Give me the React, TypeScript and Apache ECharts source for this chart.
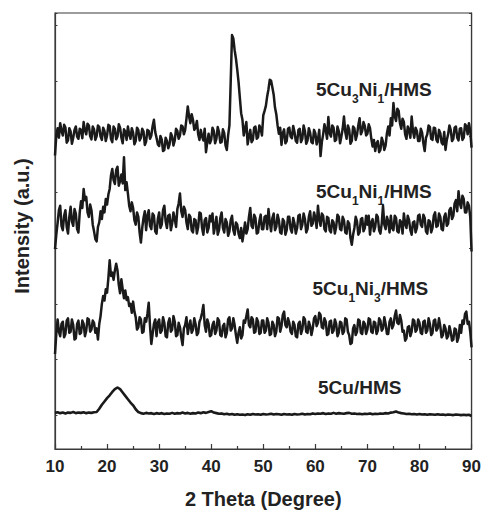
import React, { useEffect, useRef } from "react";
import * as echarts from "echarts";

// 2θ sampling: all patterns start at 10°; noisy patterns every 0.25°, 5Cu/HMS every 0.5°
const twoThetaStart = 10;
const noisyStep = 0.25;
const cuStep = 0.5;

// Stacked, offset intensities (a.u.); one row = 5°
const cu3ni1 = [
  46.6, 50.2, 51.5, 49.8, 52.4, 51.0, 50.2, 52.1, 51.6, 48.9, 49.3, 51.5, 50.9, 48.7, 49.8, 51.2, 51.8, 50.0, 49.6, 51.4,
  51.2, 49.7, 52.6, 51.1, 50.4, 52.3, 52.0, 50.1, 49.5, 51.8, 51.3, 49.4, 50.1, 52.0, 51.7, 50.0, 49.4, 51.6, 51.0, 49.2,
  50.2, 52.1, 51.9, 49.6, 49.0, 51.8, 51.4, 49.5, 50.0, 52.2, 51.6, 49.8, 48.8, 51.3, 50.9, 49.4, 51.8, 50.4, 49.6, 51.5,
  50.7, 48.6, 49.2, 51.6, 51.2, 49.3, 49.8, 51.4, 50.9, 48.5, 49.1, 51.2, 51.0, 49.6, 50.2, 51.9, 53.0, 50.8, 49.8, 48.6,
  48.3, 50.1, 49.5, 47.4, 47.6, 49.8, 49.2, 47.9, 48.6, 50.6, 50.0, 48.4, 49.3, 51.4, 51.0, 49.6, 50.2, 52.0, 51.8, 50.4,
  51.2, 53.2, 55.4, 53.6, 52.4, 54.0, 53.0, 51.2, 51.6, 52.8, 50.4, 49.4, 51.2, 50.0, 49.3, 51.4, 47.2, 49.0, 50.5, 48.8,
  49.4, 51.6, 51.0, 48.8, 49.6, 51.7, 50.8, 48.9, 49.0, 51.3, 50.6, 48.4, 47.6, 50.2, 52.0, 60.0, 68.2, 67.6, 65.5, 64.0,
  62.0, 59.8, 57.0, 54.2, 53.0, 50.2, 51.4, 52.6, 48.6, 50.0, 51.2, 49.0, 49.4, 51.6, 51.8, 49.6, 49.9, 52.0, 51.4, 50.2,
  53.8, 54.6, 55.5, 57.2, 58.5, 60.2, 60.0, 58.8, 57.5, 55.2, 54.0, 52.0, 50.5, 51.6, 48.5, 50.6, 51.3, 48.8, 49.2, 51.4,
  51.6, 50.0, 49.7, 51.9, 50.8, 49.2, 48.9, 51.2, 51.4, 49.0, 49.6, 52.0, 51.0, 48.7, 49.3, 51.5, 50.7, 49.0, 48.8, 51.2,
  50.6, 48.6, 49.5, 51.2, 46.5, 49.0, 50.4, 52.2, 51.2, 49.6, 53.5, 50.6, 50.0, 52.0, 51.6, 49.2, 49.4, 51.8, 51.0, 48.8,
  50.0, 51.4, 53.6, 50.8, 49.6, 52.0, 51.3, 48.7, 49.2, 51.8, 51.5, 49.4, 50.3, 52.0, 53.3, 50.4, 51.0, 52.6, 51.9, 50.2,
  50.5, 52.2, 51.5, 49.6, 48.2, 49.4, 47.4, 48.8, 49.2, 47.2, 47.6, 49.8, 49.0, 47.6, 48.4, 50.6, 51.8, 50.2, 53.3, 52.0,
  56.0, 53.6, 52.8, 55.0, 54.6, 52.4, 51.4, 53.2, 52.6, 50.4, 49.6, 51.8, 51.2, 49.8, 53.6, 51.0, 49.8, 51.6, 51.0, 49.2,
  49.2, 51.4, 50.7, 48.8, 47.4, 49.8, 50.4, 52.0, 51.7, 49.6, 49.4, 51.6, 51.5, 49.4, 49.0, 51.2, 50.6, 48.9, 48.6, 50.8,
  47.6, 49.4, 50.4, 52.0, 51.2, 49.2, 49.6, 51.6, 51.8, 49.8, 49.3, 51.4, 51.5, 49.4, 49.8, 52.2, 51.9, 50.4, 52.4, 51.0,
  48.0,
];

const cu1ni1 = [
  29.8, 32.4, 34.5, 36.8, 37.6, 34.0, 33.2, 35.8, 36.8, 33.8, 32.6, 35.6, 37.4, 34.8, 34.0, 37.0, 36.2, 33.4, 32.8, 36.4,
  38.4, 37.2, 40.6, 38.6, 39.2, 36.4, 35.6, 37.8, 36.8, 34.2, 33.0, 31.6, 31.2, 33.8, 34.6, 36.6, 35.2, 37.4, 36.4, 38.8,
  37.8, 39.6, 40.6, 43.0, 44.2, 42.2, 41.5, 44.0, 44.6, 41.2, 42.0, 43.2, 41.6, 46.3, 40.4, 41.8, 39.8, 37.6, 36.6, 38.2,
  37.2, 35.0, 34.2, 36.4, 35.6, 32.8, 31.0, 33.6, 35.4, 36.6, 33.2, 35.8, 36.8, 34.0, 33.4, 36.2, 35.8, 33.0, 32.6, 35.2,
  36.4, 33.6, 34.2, 36.8, 37.6, 34.8, 33.6, 35.8, 36.0, 33.2, 34.4, 36.4, 35.2, 33.8, 37.0, 38.0, 39.8, 36.6, 35.6, 37.4,
  36.8, 34.6, 33.4, 36.0, 35.6, 33.2, 32.8, 35.2, 35.0, 32.6, 33.8, 36.4, 36.2, 33.6, 32.4, 35.0, 35.4, 32.8, 33.6, 35.8,
  34.8, 36.2, 32.6, 34.0, 35.6, 32.4, 33.2, 35.4, 36.4, 33.6, 32.8, 35.2, 34.6, 32.2, 33.0, 35.0, 35.8, 33.2, 32.4, 34.6,
  34.2, 32.6, 31.8, 33.6, 31.2, 32.8, 34.6, 32.6, 33.4, 35.6, 37.2, 34.0, 33.6, 36.0, 35.4, 32.6, 32.8, 34.8, 36.0, 33.4,
  33.4, 35.6, 35.8, 33.4, 37.0, 34.6, 33.0, 35.4, 36.2, 33.2, 33.8, 36.0, 35.0, 32.8, 32.6, 35.2, 34.8, 32.4, 33.2, 35.6,
  35.6, 33.4, 32.8, 35.4, 34.4, 32.6, 33.6, 35.8, 36.0, 33.4, 34.2, 36.2, 35.2, 32.8, 33.4, 35.6, 36.6, 34.0, 34.4, 36.4,
  35.4, 33.6, 37.6, 35.2, 34.0, 36.2, 35.8, 33.4, 33.0, 35.6, 35.4, 33.2, 32.8, 35.0, 34.6, 32.6, 33.8, 36.0, 35.6, 33.4,
  33.2, 35.6, 35.0, 32.8, 32.6, 34.8, 34.4, 31.8, 30.6, 32.4, 33.6, 35.6, 34.8, 32.4, 32.8, 35.2, 35.4, 33.0, 33.6, 35.8,
  34.2, 35.8, 32.4, 34.6, 35.2, 33.0, 33.8, 36.0, 35.6, 33.2, 32.6, 34.4, 37.6, 34.2, 33.4, 35.6, 34.8, 32.8, 35.8, 33.6,
  33.2, 35.8, 35.4, 33.0, 32.8, 35.0, 34.6, 32.6, 36.2, 34.4, 33.6, 35.8, 35.0, 33.2, 32.4, 34.6, 34.8, 32.8, 33.6, 35.8,
  36.0, 34.2, 33.8, 36.0, 35.4, 33.0, 32.6, 35.0, 34.8, 32.8, 33.6, 35.8, 36.4, 33.8, 34.0, 36.2, 35.6, 33.4, 33.2, 35.6,
  36.2, 34.0, 34.4, 36.8, 37.2, 35.2, 35.8, 38.0, 38.6, 36.6, 40.2, 38.0, 37.2, 39.4, 38.8, 36.4, 36.4, 38.2, 37.6, 35.6,
  29.4,
];

const cu1ni3 = [
  11.0, 14.6, 17.2, 15.0, 14.2, 16.4, 16.8, 14.0, 14.6, 17.0, 17.4, 14.8, 15.0, 17.2, 16.2, 13.6, 13.8, 16.4, 17.0, 14.6,
  14.8, 17.0, 16.4, 14.2, 15.2, 17.4, 17.2, 15.0, 15.4, 17.0, 16.6, 14.8, 15.6, 13.6, 16.4, 17.8, 20.0, 21.4, 20.6, 22.6,
  22.0, 24.6, 27.8, 25.0, 25.6, 24.3, 26.0, 27.2, 26.0, 23.4, 21.9, 24.4, 22.6, 21.0, 22.4, 20.7, 21.2, 19.6, 20.0, 18.4,
  20.4, 18.6, 17.6, 15.4, 15.8, 17.6, 17.2, 14.8, 15.0, 17.4, 16.8, 18.2, 20.2, 16.0, 12.8, 14.6, 16.4, 17.2, 14.2, 16.6,
  17.2, 14.8, 15.2, 17.6, 16.6, 14.2, 14.0, 16.6, 17.4, 15.0, 15.4, 17.8, 16.8, 14.2, 14.4, 16.6, 15.8, 14.0, 12.6, 15.6,
  16.2, 17.6, 14.6, 16.0, 17.0, 14.8, 15.4, 17.4, 16.4, 14.4, 14.8, 16.8, 17.4, 18.4, 19.8, 16.2, 15.0, 17.2, 16.4, 14.2,
  14.4, 16.2, 16.8, 14.6, 15.2, 17.4, 17.0, 14.4, 14.2, 16.0, 16.4, 14.0, 14.8, 17.2, 17.6, 15.2, 15.6, 17.4, 16.2, 14.4,
  13.0, 14.8, 15.8, 13.8, 14.4, 17.0, 16.6, 17.8, 19.0, 16.2, 15.8, 17.6, 17.2, 14.8, 15.0, 17.4, 16.8, 14.6, 14.8, 17.0,
  17.0, 14.8, 15.2, 17.4, 16.6, 14.4, 14.6, 16.8, 16.2, 14.2, 15.0, 17.6, 17.4, 15.0, 16.0, 18.0, 18.6, 16.2, 15.8, 17.4,
  16.6, 15.0, 14.6, 16.8, 16.2, 14.2, 14.0, 16.4, 16.8, 14.6, 15.4, 17.6, 17.2, 15.0, 14.8, 16.8, 16.0, 14.4, 15.6, 17.4,
  17.8, 16.0, 16.6, 18.4, 18.0, 15.8, 15.6, 17.4, 16.8, 14.4, 14.6, 16.8, 17.0, 14.8, 15.2, 17.2, 16.4, 14.2, 14.8, 16.8,
  16.6, 14.6, 15.0, 17.4, 17.2, 15.0, 14.4, 12.8, 13.0, 15.6, 16.2, 14.4, 15.0, 17.2, 17.0, 14.8, 14.6, 16.8, 16.4, 14.6,
  15.4, 17.4, 17.2, 15.0, 14.8, 16.8, 16.6, 14.6, 15.2, 17.4, 17.0, 15.2, 15.6, 17.6, 16.4, 14.6, 14.6, 16.8, 17.4, 15.6,
  16.2, 17.8, 18.8, 16.6, 16.4, 18.0, 17.0, 15.0, 15.2, 13.4, 13.8, 15.8, 16.0, 14.2, 15.0, 17.2, 17.0, 15.0, 15.4, 17.2,
  16.6, 14.8, 14.6, 16.8, 17.0, 14.8, 15.2, 17.4, 16.4, 14.4, 14.8, 17.0, 17.2, 15.2, 15.6, 17.4, 16.0, 14.0, 14.4, 16.2,
  15.6, 13.8, 14.2, 16.0, 15.0, 13.4, 13.6, 15.6, 15.4, 13.2, 14.0, 16.2, 14.8, 17.0, 16.4, 18.2, 18.6, 16.4, 16.8, 15.0,
  12.2,
];

const cu = [
  0.45, 0.55, 0.4, 0.5, 0.35, 0.5, 0.45, 0.6, 0.4, 0.5,
  0.45, 0.55, 0.4, 0.5, 0.45, 0.55, 0.6, 1.2, 1.9, 2.5,
  3.1, 3.6, 4.2, 4.7, 5.0, 4.7, 4.1, 3.5, 2.9, 2.3,
  1.8, 1.1, 0.6, 0.4, 0.3, 0.45, 0.35, 0.4, 0.25, 0.4,
  0.3, 0.4, 0.25, 0.35, 0.3, 0.45, 0.3, 0.4, 0.35, 0.5,
  0.35, 0.45, 0.3, 0.4, 0.35, 0.5, 0.4, 0.55, 0.45, 0.6,
  0.75, 0.5, 0.4, 0.3, 0.35, 0.2, 0.3, 0.15, 0.25, 0.1,
  0.2, 0.1, 0.15, 0.05, 0.2, 0.1, 0.25, 0.15, 0.2, 0.1,
  0.25, 0.15, 0.2, 0.3, 0.15, 0.25, 0.2, 0.1, 0.25, 0.15,
  0.2, 0.1, 0.25, 0.15, 0.2, 0.3, 0.15, 0.25, 0.2, 0.35,
  0.25, 0.35, 0.3, 0.4, 0.25, 0.35, 0.3, 0.45, 0.3, 0.4,
  0.35, 0.3, 0.4, 0.45, 0.3, 0.35, 0.25, 0.3, 0.2, 0.3,
  0.25, 0.35, 0.2, 0.3, 0.25, 0.35, 0.3, 0.4, 0.35, 0.5,
  0.55, 0.7, 0.5, 0.4, 0.35, 0.25, 0.3, 0.2, 0.25, 0.15,
  0.25, 0.15, 0.2, 0.1, 0.2, 0.15, 0.1, 0.2, 0.1, 0.15,
  0.05, 0.15, 0.1, 0.05, 0.15, 0.1, 0.05, 0.1, 0.05, 0.1,
  -0.1,
];

const xTicks = [10, 20, 30, 40, 50, 60, 70, 80, 90];

const FONT = '"Liberation Sans", Arial, Helvetica, sans-serif';
const INK = "#1a1a1a";
const AXIS = "#3a3a3a";

function toPairs(vals: number[], step: number) {
  return vals.map((v, i) => [twoThetaStart + i * step, v]);
}

function label(parts: [string, boolean][], x: number, y: number) {
  const text = parts.map(([t, sub]) => `{${sub ? "s" : "m"}|${t}}`).join("");
  return {
    type: "text",
    x,
    y,
    style: {
      text,
      fill: "#222",
      textVerticalAlign: "top",
      rich: {
        m: { fontFamily: FONT, fontWeight: "bold", fontSize: 19, lineHeight: 22, verticalAlign: "top", fill: "#222" },
        s: { fontFamily: FONT, fontWeight: "bold", fontSize: 12, lineHeight: 14, padding: [13, 0, 0, 0], verticalAlign: "top", fill: "#222" },
      },
    },
  };
}

function yAxisDef(position: "left" | "right") {
  return {
    type: "value",
    min: -6.03,
    max: 72.16,
    splitNumber: 8,
    position,
    axisLine: { show: true, onZero: false, lineStyle: { color: AXIS, width: 1.2 } },
    axisTick: { show: true, inside: true, length: 2.5, lineStyle: { color: AXIS, width: 1 } },
    axisLabel: { show: false },
    splitLine: { show: false },
  };
}

export default function App() {
  const ref = useRef<HTMLDivElement>(null);
  useEffect(() => {
    if (!ref.current) return;
    const chart = echarts.init(ref.current, undefined, { renderer: "svg" });
    const lineSeries = (name: string, vals: number[], step: number, w: number) => ({
      name,
      type: "line",
      data: toPairs(vals, step),
      showSymbol: false,
      symbol: "none",
      lineStyle: { color: INK, width: w, join: "round" },
      xAxisIndex: 0,
      yAxisIndex: 0,
      z: 3,
    });
    chart.setOption({
      animation: false,
      backgroundColor: "#ffffff",
      grid: {
        left: 55,
        top: 13,
        width: 418,
        height: 441,
        show: true,
        borderColor: AXIS,
        borderWidth: 1.2,
        backgroundColor: "transparent",
      },
      xAxis: {
        type: "value",
        min: xTicks[0],
        max: xTicks[xTicks.length - 1],
        interval: 10,
        axisLine: { show: true, onZero: false, lineStyle: { color: AXIS, width: 1.2 } },
        axisTick: { show: true, inside: true, length: 5, lineStyle: { color: AXIS, width: 1.2 } },
        minorTick: { show: true, splitNumber: 2, length: 3, lineStyle: { color: AXIS, width: 1.2 } },
        splitLine: { show: false },
        axisLabel: { margin: 9, fontFamily: FONT, fontWeight: "bold", fontSize: 17, color: "#222" },
        name: "2 Theta (Degree)",
        nameLocation: "middle",
        nameGap: 40,
        nameTextStyle: { fontFamily: FONT, fontWeight: "bold", fontSize: 20, color: "#222" },
      },
      yAxis: [yAxisDef("left"), yAxisDef("right")],
      series: [
        lineSeries("5Cu3Ni1/HMS", cu3ni1, noisyStep, 2.5),
        lineSeries("5Cu1Ni1/HMS", cu1ni1, noisyStep, 2.5),
        lineSeries("5Cu1Ni3/HMS", cu1ni3, noisyStep, 2.5),
        lineSeries("5Cu/HMS", cu, cuStep, 2.6),
      ],
      graphic: [
        {
          type: "text",
          x: 22,
          y: 226,
          rotation: Math.PI / 2,
          style: {
            text: "Intensity (a.u.)",
            fontFamily: FONT,
            fontWeight: "bold",
            fontSize: 20,
            fill: "#222",
            textAlign: "center",
            textVerticalAlign: "middle",
          },
        },
        label([["5Cu", false], ["3", true], ["Ni", false], ["1", true], ["/HMS", false]], 316, 79.5),
        label([["5Cu", false], ["1", true], ["Ni", false], ["1", true], ["/HMS", false]], 316, 181.5),
        label([["5Cu", false], ["1", true], ["Ni", false], ["3", true], ["/HMS", false]], 312.5, 278.5),
        label([["5Cu/HMS", false]], 318, 377.5),
      ],
    });
    return () => chart.dispose();
  }, []);
  return (
    <div
      ref={ref}
      style={{ position: "absolute", left: 0, top: 0, width: 484, height: 514, background: "#fff" }}
    />
  );
}
